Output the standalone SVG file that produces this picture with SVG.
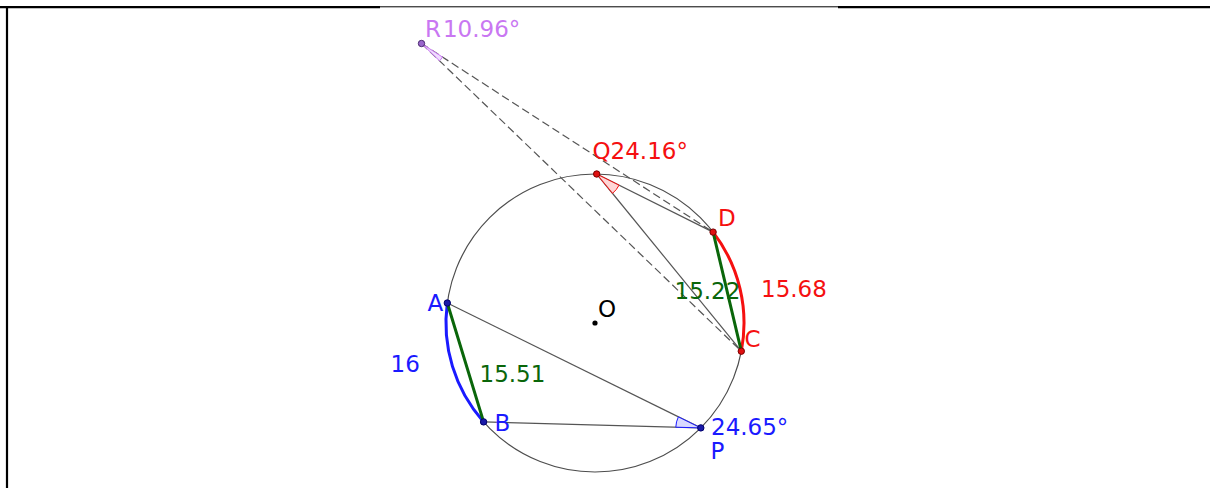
<svg xmlns="http://www.w3.org/2000/svg" width="1210" height="488" viewBox="0 0 1210 488">
<style>
  text { font-family: "DejaVu Sans", Verdana, sans-serif; font-size: 23px; }
  .blue { fill: #1a1aff; }
  .red { fill: #f51010; }
  .green { fill: #0a660a; }
  .purple { fill: #c977f2; }
  .solid { stroke: #555; stroke-width: 1.2; fill: none; }
  .dash { stroke: #555; stroke-width: 1.2; fill: none; stroke-dasharray: 8 4; }
  .chord { stroke: #0a660a; stroke-width: 3; fill: none; stroke-linecap: round; }
  .ptb { fill: #1a1aa8; stroke: #00006b; stroke-width: 1; }
  .ptr { fill: #e01010; stroke: #7a0000; stroke-width: 1; }
  .ptp { fill: #9a66cc; stroke: #4b2a70; stroke-width: 1; }
</style>
<rect x="0" y="0" width="1210" height="488" fill="#ffffff"/>
<g id="frame" stroke="#000" fill="none">
  <line x1="0" y1="7.2" x2="380" y2="7.2" stroke-width="2.2"/>
  <line x1="379" y1="6.8" x2="839" y2="6.8" stroke-width="1"/>
  <line x1="838" y1="7.2" x2="1210" y2="7.2" stroke-width="2.2"/>
  <line x1="7" y1="6" x2="7" y2="488" stroke-width="2.2"/>
</g>
<g id="circle">
  <circle cx="595" cy="323" r="149" fill="none" stroke="#4d4d4d" stroke-width="1.2"/>
</g>
<g id="connectors">
  <line class="dash" x1="421.5" y1="43.5" x2="713.1" y2="232.1"/>
  <line class="dash" x1="421.5" y1="43.5" x2="741.3" y2="351.2"/>
  <line class="solid" x1="596.7" y1="174" x2="713.1" y2="232.1"/>
  <line class="solid" x1="596.7" y1="174" x2="741.3" y2="351.2"/>
  <line class="solid" x1="447.3" y1="303" x2="700.8" y2="427.9"/>
  <line class="solid" x1="483.6" y1="421.9" x2="700.8" y2="427.9"/>
  <path d="M447.3,303 A149,149 0 0 0 483.6,421.9" fill="none" stroke="#1a1aff" stroke-width="3"/>
  <path d="M713.1,232.1 A149,149 0 0 1 741.3,351.2" fill="none" stroke="#f51010" stroke-width="3"/>
  <line class="chord" x1="447.3" y1="303" x2="483.6" y2="421.9"/>
  <line class="chord" x1="713.1" y1="232.1" x2="741.3" y2="351.2"/>
</g>
<g id="angles">
  <path d="M596.7,174 L619.07,185.17 A25,25 0 0 1 612.51,193.37 Z" fill="#ffcccc" fill-opacity="0.8" stroke="#f51010" stroke-width="1"/>
  <path d="M700.8,427.9 L675.81,427.21 A25,25 0 0 1 678.37,416.85 Z" fill="#d6d6ff" fill-opacity="0.9" stroke="#1a1aff" stroke-width="1"/>
  <path d="M421.5,43.5 L442.49,57.08 A25,25 0 0 1 439.52,60.83 Z" fill="#f0dcff" stroke="#c977f2" stroke-width="1"/>
</g>
<g id="node-R">
  <circle class="ptp" cx="421.5" cy="43.5" r="3.2"/>
  <text class="purple" x="425" y="36.7">R<tspan dx="2">10.96°</tspan></text>
</g>
<g id="node-Q">
  <circle class="ptr" cx="596.7" cy="174" r="3.2"/>
  <text class="red" x="592.5" y="159.3">Q24.16°</text>
</g>
<g id="node-D">
  <circle class="ptr" cx="713.1" cy="232.1" r="3.2"/>
  <text class="red" x="718" y="226">D</text>
</g>
<g id="node-C">
  <circle class="ptr" cx="741.3" cy="351.2" r="3.2"/>
  <text class="red" x="744.5" y="347">C</text>
</g>
<g id="node-A">
  <circle class="ptb" cx="447.3" cy="303" r="3.2"/>
  <text class="blue" x="427.5" y="311">A</text>
</g>
<g id="node-B">
  <circle class="ptb" cx="483.6" cy="421.9" r="3.2"/>
  <text class="blue" x="494.5" y="430.5">B</text>
</g>
<g id="node-P">
  <circle class="ptb" cx="700.8" cy="427.9" r="3.2"/>
  <text class="blue" x="711" y="435">24.65°</text>
  <text class="blue" x="710.5" y="458.5">P</text>
</g>
<g id="node-O">
  <circle cx="595" cy="323" r="2.6" fill="#000"/>
  <text x="598" y="317" fill="#000">O</text>
</g>
<g id="labels">
  <text class="red" x="761" y="296.5">15.68</text>
  <text class="green" x="674.5" y="299">15.22</text>
  <text class="green" x="479.5" y="381.5">15.51</text>
  <text class="blue" x="390.5" y="372">16</text>
</g>
</svg>
